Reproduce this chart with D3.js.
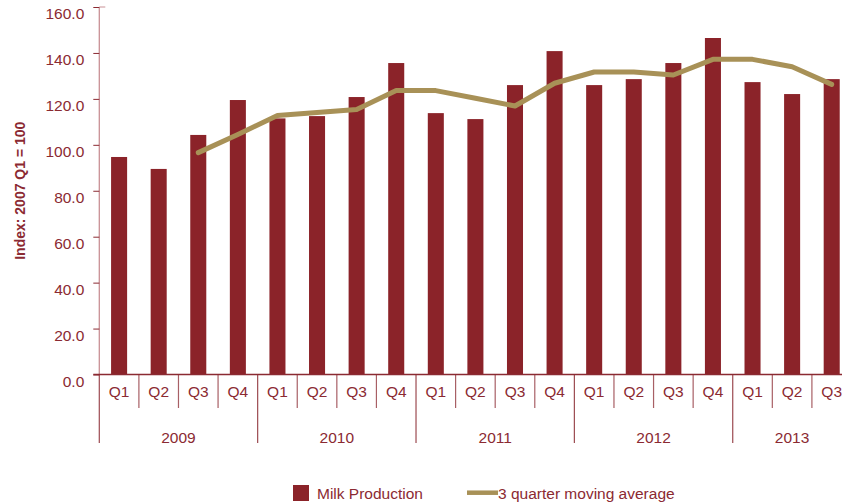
<!DOCTYPE html>
<html>
<head>
<meta charset="utf-8">
<script src="https://cdn.jsdelivr.net/npm/d3@7"></script>
<style>
  html, body { margin: 0; padding: 0; background: #fff; overflow: hidden; }
  svg { display: block; font-family: "Liberation Sans", Arial, sans-serif; }
</style>
</head>
<body>
<svg id="chart" width="842" height="504"></svg>
<script>
// Quarterly periods, 2009 Q1 – 2013 Q3
const years = ["2009", "2010", "2011", "2012", "2013"];
const quarters = ["Q1","Q2","Q3","Q4","Q1","Q2","Q3","Q4","Q1","Q2","Q3","Q4","Q1","Q2","Q3","Q4","Q1","Q2","Q3"];
const yearOfPeriod = ["2009","2009","2009","2009","2010","2010","2010","2010","2011","2011","2011","2011","2012","2012","2012","2012","2013","2013","2013"];

// Milk production index (2007 Q1 = 100)
const milkProduction = [94.7, 89.5, 104.3, 119.5, 111.5, 112.5, 120.8, 135.6, 113.8, 111.2, 126.0, 140.8, 126.0, 128.6, 135.6, 146.5, 127.3, 122.1, 128.6];

// 3 quarter moving average (first two quarters have no value)
const movingAverage = [null, null, 96.6, 104.5, 112.8, 114.1, 115.4, 123.6, 123.6, 120.3, 116.9, 126.8, 131.7, 131.7, 130.4, 137.2, 137.2, 134.0, 126.3];

const yTicks = [0, 20, 40, 60, 80, 100, 120, 140, 160];

const barColor = "#8b2329";
const lineColor = "#a89157";
const textColor = "#8b2a32";
const axisPink = "#c99095";
const fontSize = 15.5;

const svg = d3.select("#chart");
const plotLeft = 99.3, plotRight = 851.5, plotTop = 7, plotBottom = 374.5;

const ids = quarters.map((q, i) => i);
const x = d3.scaleBand().domain(ids).range([plotLeft, plotRight]).padding(0);
const y = d3.scaleLinear().domain([0, 160]).range([plotBottom, plotTop]);
const barW = x.bandwidth() * 0.405;

// Y axis
const yAxis = svg.append("g").attr("transform", `translate(${plotLeft},0)`)
  .call(d3.axisLeft(y).tickValues(yTicks).tickFormat(d3.format(".1f")).tickSize(6).tickPadding(9));
yAxis.select(".domain").attr("stroke", axisPink).attr("stroke-width", 1.3)
  .attr("d", `M0,${plotTop}V${plotBottom}`);
yAxis.selectAll(".tick line").attr("stroke", textColor).attr("stroke-width", 1);
yAxis.selectAll(".tick text").attr("fill", textColor).attr("font-size", fontSize)
  .attr("dy", "0.75em")
  .attr("font-family", "Liberation Sans, Arial, sans-serif");

// short pink stub at the top of the value axis
svg.append("line").attr("x1", plotLeft).attr("x2", plotLeft + 6)
  .attr("y1", y(160)).attr("y2", y(160)).attr("stroke", axisPink).attr("stroke-width", 1);

// Y axis title
svg.append("text")
  .attr("transform", `translate(25,${(plotTop + plotBottom) / 2}) rotate(-90)`)
  .attr("text-anchor", "middle")
  .attr("fill", textColor).attr("font-size", 14).attr("font-weight", "bold")
  .text("Index: 2007 Q1 = 100");

// Bars
svg.append("g").selectAll("rect").data(milkProduction).join("rect")
  .attr("x", (d, i) => x(i) + x.bandwidth() / 2 - barW / 2)
  .attr("y", d => y(d))
  .attr("width", barW)
  .attr("height", d => y(0) - y(d))
  .attr("fill", barColor);

// Moving average line
const line = d3.line()
  .defined(d => d != null)
  .x((d, i) => x(i) + x.bandwidth() / 2)
  .y(d => y(d));
svg.append("path").datum(movingAverage)
  .attr("d", line)
  .attr("fill", "none").attr("stroke", lineColor).attr("stroke-width", 5)
  .attr("stroke-linecap", "round").attr("stroke-linejoin", "round");

// X axis baseline
svg.append("line").attr("x1", plotLeft - 6).attr("x2", plotRight)
  .attr("y1", plotBottom).attr("y2", plotBottom).attr("stroke", textColor).attr("stroke-width", 1.3);

// Quarter separators and labels
const xg = svg.append("g");
ids.forEach(i => {
  const isYearStart = i === 0 || yearOfPeriod[i] !== yearOfPeriod[i - 1];
  xg.append("line")
    .attr("x1", x(i)).attr("x2", x(i))
    .attr("y1", plotBottom).attr("y2", isYearStart ? 443 : 408)
    .attr("stroke", textColor).attr("stroke-opacity", isYearStart ? 0.85 : 0.75).attr("stroke-width", 1.2);
  xg.append("text")
    .attr("x", x(i) + x.bandwidth() / 2).attr("y", 397)
    .attr("text-anchor", "middle").attr("fill", textColor).attr("font-size", fontSize)
    .text(quarters[i]);
});

// Year labels centred under their quarters
years.forEach(yr => {
  const idx = ids.filter(i => yearOfPeriod[i] === yr);
  const x0 = x(idx[0]);
  const x1 = x(idx[idx.length - 1]) + x.bandwidth();
  xg.append("text")
    .attr("x", (x0 + x1) / 2).attr("y", 443)
    .attr("text-anchor", "middle").attr("fill", textColor).attr("font-size", fontSize)
    .text(yr);
});

// Legend
const lg = svg.append("g");
lg.append("rect").attr("x", 293).attr("y", 485).attr("width", 16).attr("height", 16).attr("fill", barColor);
lg.append("text").attr("x", 317).attr("y", 499).attr("fill", textColor).attr("font-size", fontSize).text("Milk Production");
lg.append("line").attr("x1", 467).attr("x2", 498).attr("y1", 492.7).attr("y2", 492.7)
  .attr("stroke", lineColor).attr("stroke-width", 4.5);
lg.append("text").attr("x", 498).attr("y", 499).attr("fill", textColor).attr("font-size", fontSize).text("3 quarter moving average");
</script>
</body>
</html>
